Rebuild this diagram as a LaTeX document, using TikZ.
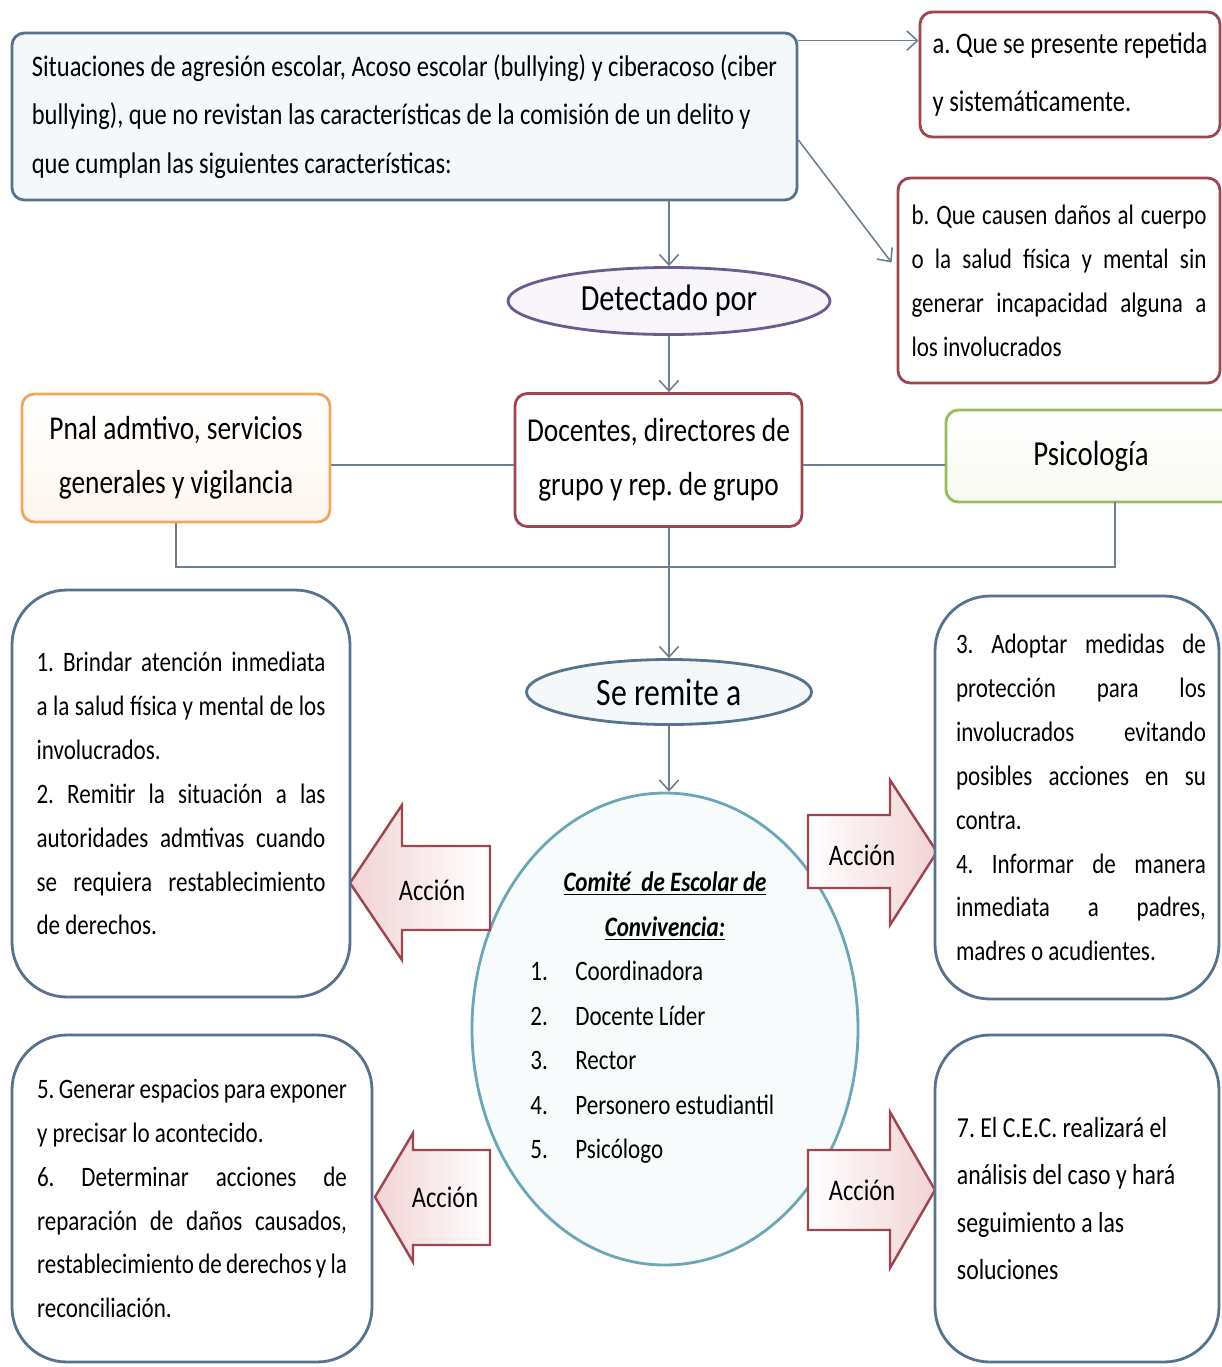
\documentclass[tikz,border=0pt]{standalone}
\usepackage{fontspec}
\setmainfont{Carlito}[FakeStretch=0.82]
\usetikzlibrary{arrows.meta,shapes.geometric}
\definecolor{bordeAzul}{HTML}{56728F}
\definecolor{fondoAzul}{HTML}{F4F8FB}
\definecolor{bordeRojo}{HTML}{A0444F}
\definecolor{bordeMorado}{HTML}{6C5B8F}
\definecolor{fondoMorado}{HTML}{F8F5FB}
\definecolor{bordeNaranja}{HTML}{F2A65E}
\definecolor{bordeVerde}{HTML}{9BBB59}
\definecolor{bordeComite}{HTML}{6BA7B5}
\definecolor{fondoComite}{HTML}{F7FBFC}
\definecolor{lineaGris}{HTML}{6F7F8F}
\definecolor{rosaFlecha}{HTML}{F2D3D5}
\frenchspacing
\tikzset{
  boxSize/.style 2 args = {minimum width=#1*0.02cm, minimum height=#2*0.02cm},
  caja/.style = {draw, line width=1.6pt, inner sep=0pt, align=center,
    font=\fontsize{16}{27}\selectfont},
  %cajas de arriba
  cajaAzul/.style = {caja, draw=bordeAzul, fill=fondoAzul, rounded corners=7pt},
  cajaRoja/.style = {caja, draw=bordeRojo, fill=white, rounded corners=7pt},
  cajaNaranja/.style = {caja, draw=bordeNaranja, top color=white,
    bottom color=bordeNaranja!10, rounded corners=7pt},
  cajaVerde/.style = {caja, draw=bordeVerde, top color=white,
    bottom color=bordeVerde!8, rounded corners=7pt},
  %cajas grandes de acciones
  cajaGrande/.style = {caja, draw=bordeAzul, fill=white, rounded corners=1.1cm,
    align=justify, font=\fontsize{16}{25}\selectfont},
  %elipses
  elipse/.style = {ellipse, draw, line width=1.6pt, inner sep=0pt,
    font=\fontsize{22}{26}\selectfont},
  elipseMorada/.style = {elipse, draw=bordeMorado, fill=fondoMorado},
  elipseAzul/.style = {elipse, draw=bordeAzul, fill=fondoAzul},
  elipseComite/.style = {elipse, draw=bordeComite, fill=fondoComite},
  conector/.style = {draw=lineaGris, line width=0.9pt},
  accionFlecha/.style = {draw=bordeRojo, line width=1.4pt, line join=miter},
  etiqueta/.style = {inner sep=0pt, font=\fontsize{17}{20}\selectfont}
}

\begin{document}
\begin{tikzpicture}[x=0.02cm, y=-0.02cm, >={Straight Barb[length=6pt,width=11pt]}]
\useasboundingbox (0,0) rectangle (1222,1367);
\clip (0,0) rectangle (1222,1367);

% situaciones y caracteristicas
\node [cajaAzul, boxSize={785}{167}, align=left, font=\fontsize{17}{27.5}\selectfont]
  (situ) at (404.5,116.5)
  {Situaciones de agresión escolar, Acoso escolar (bullying) y ciberacoso (ciber\\
   bullying), que no revistan las características de la comisión de un delito y\\
   que cumplan las siguientes características:};
\node [cajaRoja, boxSize={300}{125}, align=left, font=\fontsize{17}{33}\selectfont]
  (rasgoA) at (1070,74.5) {a. Que se presente repetida\\y sistemáticamente.};
\node [cajaRoja, boxSize={322}{205}, text width=5.9cm, align=justify,
  font=\fontsize{16}{25}\selectfont] (rasgoB) at (1059,280.5)
  {b. Que causen daños al cuerpo\linebreak o la salud física y mental sin\linebreak
   generar incapacidad alguna a\linebreak los involucrados};

\node [elipseMorada, boxSize={322}{67}, font=\fontsize{21}{25}\selectfont]
  (detect) at (669,301) {Detectado por};

% quienes detectan
\node [cajaNaranja, boxSize={308}{128}, font=\fontsize{19}{31}\selectfont]
  (pnal) at (176,458) {Pnal admtivo, servicios\\generales y vigilancia};
\node [cajaRoja, boxSize={287}{133}, font=\fontsize{19}{31}\selectfont]
  (docentes) at (658.5,460) {Docentes, directores de\\grupo y rep. de grupo};
\node [cajaVerde, boxSize={290}{92}, font=\fontsize{20}{24}\selectfont]
  (psico) at (1091,456) {Psicología};

\node [elipseAzul, boxSize={285}{65}] (remite) at (669,692) {Se remite a};

% comite
\node [elipseComite, boxSize={386}{472}] (comite) at (665,1029) {};
\node [etiqueta, align=center, font=\fontsize{16}{25.5}\selectfont] (comiteTitulo) at (665,906)
  {\textbf{\textit{\underline{Comité\ \ de Escolar de}}}\\
   \textbf{\textit{\underline{Convivencia:}}}};
\node [etiqueta, anchor=north west, align=left, font=\fontsize{16}{25.3}\selectfont]
  (comiteLista) at (530,961)
  {\makebox[0.9cm][l]{1.}Coordinadora\\
   \makebox[0.9cm][l]{2.}Docente Líder\\
   \makebox[0.9cm][l]{3.}Rector\\
   \makebox[0.9cm][l]{4.}Personero estudiantil\\
   \makebox[0.9cm][l]{5.}Psicólogo};

% flechas de accion
\draw [accionFlecha, left color=rosaFlecha, right color=white]
  (350,883) -- (402,805) -- (402,846) -- (490,846) -- (490,930) -- (402,930) -- (402,960) -- cycle;
\draw [accionFlecha, left color=rosaFlecha, right color=white]
  (375,1197) -- (413,1133) -- (413,1150) -- (490,1150) -- (490,1245) -- (413,1245) -- (413,1262) -- cycle;
\draw [accionFlecha, left color=white, right color=rosaFlecha]
  (937,852) -- (890,780) -- (890,815) -- (808,815) -- (808,888) -- (890,888) -- (890,925) -- cycle;
\draw [accionFlecha, left color=white, right color=rosaFlecha]
  (935,1190) -- (890,1112) -- (890,1150) -- (808,1150) -- (808,1230) -- (890,1230) -- (890,1268) -- cycle;
\node [etiqueta] (accionA) at (432,890) {Acción};
\node [etiqueta] (accionB) at (445,1197) {Acción};
\node [etiqueta] (accionC) at (862,855) {Acción};
\node [etiqueta] (accionD) at (862,1190) {Acción};

% acciones
\node [cajaGrande, boxSize={338}{407}, text width=5.78cm] (accion12) at (181,793.5)
  {1. Brindar atención inmediata\linebreak a la salud física y mental de los\linebreak
   involucrados.\par
   2. Remitir la situación a las\linebreak autoridades admtivas cuando\linebreak
   se requiera restablecimiento\linebreak de derechos.};
\node [cajaGrande, boxSize={284}{403}, align=center] (accion34) at (1077,797.5)
  {\hspace*{0.16cm}\parbox{5cm}{3. Adoptar medidas de\linebreak protección para los\linebreak
   involucrados evitando\linebreak posibles acciones en su\linebreak contra.\par
   4. Informar de manera\linebreak inmediata a padres,\linebreak
   madres o acudientes.}};
\node [cajaGrande, boxSize={284}{327}, align=left, font=\fontsize{16.5}{26.8}\selectfont]
  (accion7) at (1077,1198.5)
  {7. El C.E.C. realizará el\rule{0.6cm}{0pt}\\análisis del caso y hará\\seguimiento a las\\soluciones};
\node [cajaGrande, boxSize={360}{327}, text width=6.2cm] (accion56) at (192,1198.5)
  {5. Generar espacios para exponer\linebreak y precisar lo acontecido.\par
   6. Determinar acciones de\linebreak reparación de daños causados,\linebreak
   restablecimiento de derechos y la\linebreak reconciliación.};

% conectores
\draw [conector, ->] ([yshift=-0.18cm]situ.north east) -- ([yshift=-0.18cm]situ.north east -| rasgoA.west);
\draw [conector, ->] ([yshift=-0.47cm]situ.east) -- ([xshift=-0.1cm,yshift=0.36cm]rasgoB.west);
\draw [conector, ->] (situ.south -| detect.north) -- (detect.north);
\draw [conector, ->] (detect.south) -- (detect.south |- docentes.north);
\draw [conector] ([yshift=-0.14cm]pnal.east) -- ([yshift=-0.14cm]pnal.east -| docentes.west);
\draw [conector] ([yshift=-0.1cm]docentes.east) -- ([yshift=-0.1cm]docentes.east -| psico.west);
\coordinate (psicoPie) at (1115,502);
\coordinate (bus) at (1115,567);
\draw [conector] (pnal.south) |- (bus) -- (psicoPie);
\draw [conector, ->] (docentes.south -| remite.north) -- (remite.north);
\draw [conector, ->] (remite.south) -- (remite.south |- comite.north);
\end{tikzpicture}
\end{document}
